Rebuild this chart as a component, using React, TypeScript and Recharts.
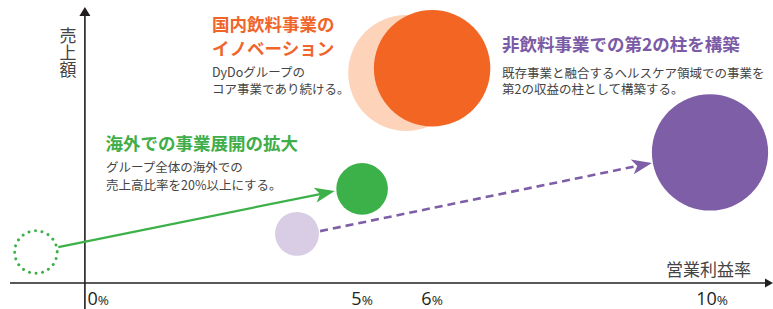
import React from 'react';
import { ComposedChart, Scatter, XAxis, YAxis, ZAxis, ReferenceLine } from 'recharts';

// ---- data ----
const bubbleNames = ['海外(現状)', '非飲料(現状)', '海外(目標)', '国内飲料(現状)', '国内飲料(目標)', '非飲料(目標)'];
const bubbleX = [0.34, 4.07, 5.0, 5.63, 6.0, 9.97]; // 営業利益率 axis position
const bubbleY = [11.2, 17.8, 34.1, 76.1, 77.8, 47.3]; // 売上額 (relative)
const bubbleZ = [14.4, 13.4, 18.5, 93.4, 94.1, 93.8]; // bubble size (relative)

const arrowFromX = [0.66, 4.4];
const arrowFromY = [13.0, 18.8];
const arrowToX = [4.61, 9.14];
const arrowToY = [33.3, 43.5];

const xTickValues = [1.04, 5, 6, 10];
const xTickLabels = ['0%', '5%', '6%', '10%'];
const yAxisPos = 1.04;

const xLabel = '営業利益率';
const yLabel = '売上額';

// ---- styles ----
const W = 773;
const H = 309;
const AXIS = '#231f20';
const GREEN = '#3db149';
const PURPLE = '#7e5fa7';
const ORANGE = '#f26522';
const PEACH = '#fdd3b9';
const LAVENDER = '#d8cde4';
const TEXT = '#444444';
const JP = '"Noto Sans CJK JP", "Noto Sans", sans-serif';

type BubbleStyle = { fill: string; stroke?: string; dotted?: boolean };
const bubbleStyles: BubbleStyle[] = [
  { fill: 'none', stroke: GREEN, dotted: true },
  { fill: LAVENDER },
  { fill: GREEN },
  { fill: PEACH },
  { fill: ORANGE },
  { fill: PURPLE },
];

const makeBubble = (st: BubbleStyle) => (props: any) => {
  const { cx, cy } = props;
  const r = props.size != null ? Math.sqrt(props.size / Math.PI) : props.width / 2;
  if (st.dotted) {
    return (
      <circle cx={cx} cy={cy} r={r - 1.5} fill="none" stroke={st.stroke} strokeWidth={3}
        strokeDasharray="0.01 6.6" strokeLinecap="round" />
    );
  }
  return <circle cx={cx} cy={cy} r={r} fill={st.fill} />;
};

const makeArrow = (color: string, dashed: boolean) => (props: any) => {
  const { x1, y1, x2, y2 } = props;
  const dx = x2 - x1;
  const dy = y2 - y1;
  const len = Math.sqrt(dx * dx + dy * dy);
  const ux = dx / len;
  const uy = dy / len;
  const px = -uy;
  const py = ux;
  const L = 20;
  const hw = 7.5;
  const notch = 5;
  const bx = x2 - ux * L;
  const by = y2 - uy * L;
  const nx = x2 - ux * (L - notch);
  const ny = y2 - uy * (L - notch);
  const pts = `${x2},${y2} ${bx + px * hw},${by + py * hw} ${nx},${ny} ${bx - px * hw},${by - py * hw}`;
  return (
    <g>
      <line x1={x1} y1={y1} x2={nx} y2={ny} stroke={color} strokeWidth={dashed ? 2.6 : 2.2}
        strokeDasharray={dashed ? '8 5' : undefined} />
      <polygon points={pts} fill={color} />
    </g>
  );
};

const xAxisShape = (props: any) => {
  const { x1, y1, x2, y2 } = props;
  return (
    <g>
      <line x1={x1} y1={y1} x2={x2 - 4} y2={y2} stroke={AXIS} strokeWidth={1.6} />
      <polygon points={`${x2},${y2} ${x2 - 8},${y2 - 4.5} ${x2 - 8},${y2 + 4.5}`} fill={AXIS} />
    </g>
  );
};

const yAxisShape = (props: any) => {
  const { x1, y1, x2, y2 } = props;
  const topY = Math.min(y1, y2);
  const botY = Math.max(y1, y2);
  return (
    <g>
      <line x1={x1} y1={botY} x2={x2} y2={topY + 4} stroke={AXIS} strokeWidth={1.6} />
      <polygon points={`${x1},${topY} ${x1 - 5.5},${topY + 9} ${x1 + 5.5},${topY + 9}`} fill={AXIS} />
    </g>
  );
};

const XTick = (props: any) => {
  const { x, y, payload, index } = props;
  const idx = xTickValues.indexOf(payload.value);
  const label = xTickLabels[idx >= 0 ? idx : index] || '';
  const num = label.replace('%', '');
  const first = idx === 0;
  return (
    <text x={first ? x + 2.5 : x} y={y + 22} textAnchor={first ? 'start' : 'middle'}
      fontFamily='"Open Sans", sans-serif' fontWeight={500} fill="#231f20">
      <tspan fontSize={18}>{num}</tspan>
      <tspan fontSize={13.5}>%</tspan>
    </text>
  );
};

const abs = (extra: React.CSSProperties): React.CSSProperties => ({
  position: 'absolute',
  fontFamily: JP,
  whiteSpace: 'pre',
  margin: 0,
  ...extra,
});

export default function App() {
  return (
    <div style={{ position: 'absolute', left: 0, top: 0, width: W, height: H, background: '#fff' }}>
      <ComposedChart width={W} height={H} margin={{ top: 7, right: 0, bottom: 0, left: 10 }}>
        <XAxis type="number" dataKey="x" domain={[-0.03, 10.87]} allowDataOverflow ticks={xTickValues}
          interval={0} axisLine={false} tickLine={false} tickSize={0} tickMargin={0} height={26}
          tick={<XTick />} />
        <YAxis type="number" dataKey="y" domain={[0, 100]} allowDataOverflow hide />
        <ZAxis type="number" dataKey="z" domain={[0, 100]} range={[0, 11309.7]} />
        <ReferenceLine segment={[{ x: -0.03, y: 0 }, { x: 10.87, y: 0 }]} ifOverflow="visible" shape={xAxisShape} />
        <ReferenceLine segment={[{ x: yAxisPos, y: -9.5 }, { x: yAxisPos, y: 100 }]} ifOverflow="visible" shape={yAxisShape} />
        {bubbleX.map((bx, i) => (
          <Scatter key={bubbleNames[i]} name={bubbleNames[i]}
            data={[{ x: bx, y: bubbleY[i], z: bubbleZ[i] }]}
            shape={makeBubble(bubbleStyles[i])} isAnimationActive={false} />
        ))}
        {arrowFromX.map((ax, i) => (
          <ReferenceLine key={'arrow' + i} ifOverflow="visible"
            segment={[{ x: ax, y: arrowFromY[i] }, { x: arrowToX[i], y: arrowToY[i] }]}
            shape={makeArrow(i === 0 ? GREEN : PURPLE, i === 1)} />
        ))}
      </ComposedChart>

      <div style={abs({ left: 59.5, top: 27, fontSize: 17, lineHeight: '17px', writingMode: 'vertical-rl', textOrientation: 'upright', color: TEXT })}>{yLabel}</div>
      <div style={abs({ left: 666, top: 259, fontSize: 17, lineHeight: '20px', color: TEXT })}>{xLabel}</div>

      <div style={abs({ left: 212, top: 12.2, fontSize: 17.5, lineHeight: '23.5px', fontWeight: 700, color: '#f0652a' })}>{'国内飲料事業の\nイノベーション'}</div>
      <div style={abs({ left: 212, top: 62.8, fontSize: 12.5, lineHeight: '17px', color: TEXT })}>{'DyDoグループの\nコア事業であり続ける。'}</div>

      <div style={abs({ left: 502, top: 32, fontSize: 17.5, lineHeight: '24px', fontWeight: 700, color: '#7b5aa6' })}>{'非飲料事業での第2の柱を構築'}</div>
      <div style={abs({ left: 502, top: 64.8, fontSize: 12.5, lineHeight: '16px', color: TEXT })}>{'既存事業と融合するヘルスケア領域での事業を\n第2の収益の柱として構築する。'}</div>

      <div style={abs({ left: 105.5, top: 130.5, fontSize: 17.5, lineHeight: '24px', fontWeight: 700, color: '#3fae4a' })}>{'海外での事業展開の拡大'}</div>
      <div style={abs({ left: 106, top: 158.3, fontSize: 12.5, lineHeight: '18px', color: TEXT })}>{'グループ全体の海外での\n売上高比率を20%以上にする。'}</div>
    </div>
  );
}
